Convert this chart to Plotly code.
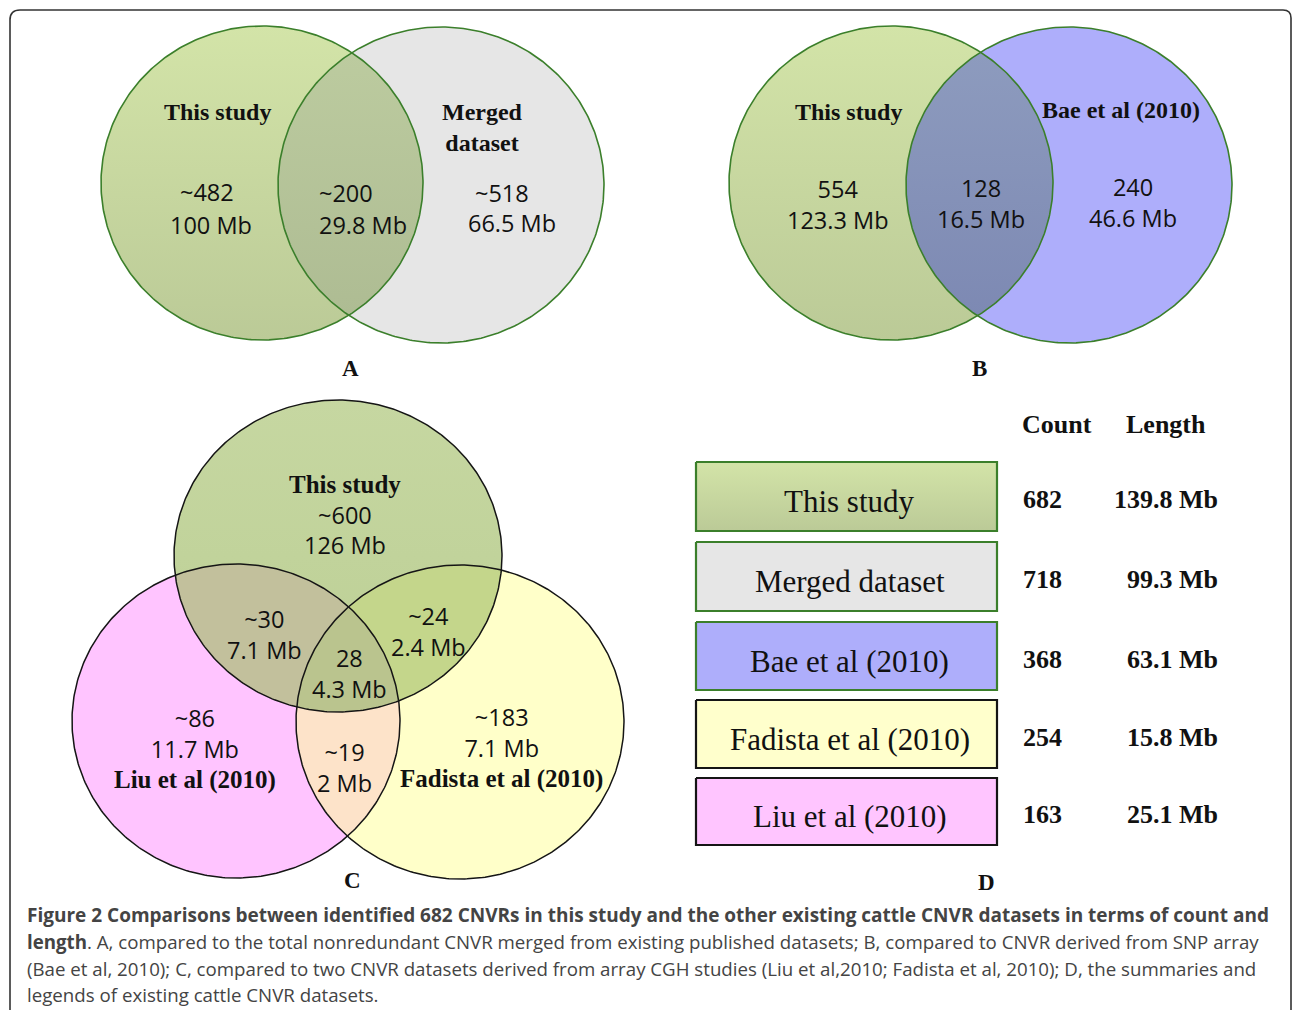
import numpy as np
import plotly.graph_objects as go

# ---------------- data ----------------
a_sets = ["This study", "Merged<br>dataset"]
a_counts = ["~482", "~200", "~518"]
a_lengths = ["100 Mb", "29.8 Mb", "66.5 Mb"]

b_sets = ["This study", "Bae et al (2010)"]
b_counts = ["554", "128", "240"]
b_lengths = ["123.3 Mb", "16.5 Mb", "46.6 Mb"]

c_sets = ["This study", "Liu et al (2010)", "Fadista et al (2010)"]
c_regions = ["This only", "This+Liu", "This+Fadista", "All three", "Liu only", "Liu+Fadista", "Fadista only"]
c_counts = ["~600", "~30", "~24", "28", "~86", "~19", "~183"]
c_lengths = ["126 Mb", "7.1 Mb", "2.4 Mb", "4.3 Mb", "11.7 Mb", "2 Mb", "7.1 Mb"]

datasets = ["This study", "Merged dataset", "Bae et al (2010)", "Fadista et al (2010)", "Liu et al (2010)"]
dataset_counts = [682, 718, 368, 254, 163]
dataset_lengths = [139.8, 99.3, 63.1, 15.8, 25.1]

caption_lines = [
    "<b>Figure 2 Comparisons between identified 682 CNVRs in this study and the other existing cattle CNVR datasets in terms of count and</b>",
    "<b>length</b>. A, compared to the total nonredundant CNVR merged from existing published datasets; B, compared to CNVR derived from SNP array",
    "(Bae et al, 2010); C, compared to two CNVR datasets derived from array CGH studies (Liu et al,2010; Fadista et al, 2010); D, the summaries and",
    "legends of existing cattle CNVR datasets.",
]

# ---------------- styles / geometry ----------------
W, H = 1293, 1010
SERIF = "Liberation Serif, Times New Roman, serif"
SANS = "Open Sans, Liberation Sans, sans-serif"
NUM = 23.5

GREEN_TOP, GREEN_BOT = "#d3e4a8", "#bbca97"
GREY = "#e6e6e6"
BLUE = "#aeaefb"
YELLOW = "#ffffc9"
PINK = "#ffc4ff"
EDGE_GREEN = "#3b7f2b"
EDGE_BLACK = "#151515"

fig = go.Figure()


def ell_pts(e, n=400):
    cx, cy, rx, ry = e
    t = np.linspace(0, 2 * np.pi, n)
    return cx + rx * np.cos(t), cy + ry * np.sin(t)


def inside(x, y, e):
    cx, cy, rx, ry = e
    return ((x - cx) / rx) ** 2 + ((y - cy) / ry) ** 2 <= 1.0000001


def intersection(es, n=1200):
    xs, ys = [], []
    for i, e in enumerate(es):
        x, y = ell_pts(e, n)
        m = np.ones_like(x, dtype=bool)
        for j, o in enumerate(es):
            if j != i:
                m &= inside(x, y, o)
        xs.append(x[m]); ys.append(y[m])
    x = np.concatenate(xs); y = np.concatenate(ys)
    mx, my = x.mean(), y.mean()
    order = np.argsort(np.arctan2(y - my, x - mx))
    x, y = x[order], y[order]
    return np.append(x, x[0]), np.append(y, y[0])


def fill(x, y, color=None, grad=None):
    kw = dict(x=x, y=y, mode="lines", fill="toself", line=dict(width=0, color="rgba(0,0,0,0)"),
              hoverinfo="skip", showlegend=False)
    if grad:
        kw["fillgradient"] = dict(type="vertical", colorscale=[[0, grad[0]], [1, grad[1]]],
                                  start=float(np.min(y)), stop=float(np.max(y)))
    else:
        kw["fillcolor"] = color
    fig.add_trace(go.Scatter(**kw))


def outline(e, color, width=1.6):
    x, y = ell_pts(e)
    fig.add_trace(go.Scatter(x=x, y=y, mode="lines", line=dict(color=color, width=width),
                             hoverinfo="skip", showlegend=False))


def text(x, y, s, size, family=SANS, bold=False, color="#111", anchor="center"):
    fig.add_annotation(x=x, y=y, text=f"<b>{s}</b>" if bold else s, showarrow=False,
                       xanchor=anchor, yanchor="middle", align="center",
                       font=dict(family=family, size=size, color=color))


def serif_b(s, size=25):
    return (f"<span style='font-family:Liberation Serif, Times New Roman, serif;"
            f"font-size:{size}px'><b>{s}</b></span>")


# ---------------- panel A ----------------
A_left = (262, 183, 161, 157)
A_right = (441, 185, 163, 158)
fill(*ell_pts(A_left), grad=(GREEN_TOP, GREEN_BOT))
fill(*ell_pts(A_right), color=GREY)
fill(*intersection([A_left, A_right]), grad=("#bccb9f", "#aebc93"))
outline(A_left, EDGE_GREEN)
outline(A_right, EDGE_GREEN)
text(217, 112, a_sets[0], 24, SERIF, True)
text(482, 127, a_sets[1], 24, SERIF, True)
for x, y, c in zip([207, 346, 502], [192, 193, 193], a_counts):
    text(x, y, c, NUM)
for x, y, l in zip([211, 363, 512], [225, 225, 223], a_lengths):
    text(x, y, l, NUM)
text(350, 368, "A", 23, SERIF, True)

# ---------------- panel B ----------------
B_left = (891, 183, 162, 157)
B_right = (1069, 185, 163, 158)
fill(*ell_pts(B_left), grad=(GREEN_TOP, GREEN_BOT))
fill(*ell_pts(B_right), color=BLUE)
fill(*intersection([B_left, B_right]), grad=("#8d9bbe", "#7d89b3"))
outline(B_left, EDGE_GREEN)
outline(B_right, EDGE_GREEN)
text(848, 112, b_sets[0], 24, SERIF, True)
text(1121, 110, b_sets[1], 24, SERIF, True)
for x, y, c, l in zip([838, 981, 1133], [204, 203, 202], b_counts, b_lengths):
    text(x, y, f"{c}<br>{l}", NUM)
text(979, 368, "B", 23, SERIF, True)

# ---------------- panel C ----------------
C_top = (338, 556, 164, 156)
C_left = (236, 721, 164, 157)
C_right = (460, 722, 164, 157)
fill(*ell_pts(C_left), color=PINK)
fill(*ell_pts(C_right), color=YELLOW)
fill(*ell_pts(C_top), grad=("#c6d7a1", "#bccf95"))
fill(*intersection([C_top, C_left]), color="#c2c09c")
fill(*intersection([C_top, C_right]), color="#c4d68b")
fill(*intersection([C_left, C_right]), color="#fde3c9")
fill(*intersection([C_top, C_left, C_right]), color="#bac48e")
for e in (C_top, C_left, C_right):
    outline(e, EDGE_BLACK, 1.5)

# region labels: (x, y_center)
c_label_pos = [(345, 516), (264, 634), (428, 631), (349, 673), (195, 748), (344, 767), (501, 747)]
for i, ((x, y), c, l) in enumerate(zip(c_label_pos, c_counts, c_lengths)):
    if i == 0:
        s = f"{serif_b(c_sets[0])}<br>{c}<br>{l}"
    elif i == 4:
        s = f"{c}<br>{l}<br>{serif_b(c_sets[1])}"
    elif i == 6:
        s = f"{c}<br>{l}<br>{serif_b(c_sets[2])}"
    else:
        s = f"{c}<br>{l}"
    fig.add_annotation(x=x, y=y, text=s, showarrow=False, xanchor="center", yanchor="middle",
                       align="center", font=dict(family=SANS, size=NUM, color="#111"))
text(352, 880, "C", 23, SERIF, True)

# ---------------- panel D ----------------
box_x0, box_x1 = 696, 997
box_y = [(462, 531), (542, 611), (622, 690), (700, 768), (778, 845)]
box_fill = [None, GREY, BLUE, "#ffffcc", "#ffc5ff"]
box_edge = [EDGE_GREEN, EDGE_GREEN, EDGE_GREEN, EDGE_BLACK, EDGE_BLACK]
text(1057, 424, "Count", 26, SERIF, True)
text(1166, 424, "Length", 26, SERIF, True)
for i, name in enumerate(datasets):
    y0, y1 = box_y[i]
    bx = [box_x0, box_x1, box_x1, box_x0, box_x0]
    by = [y0, y0, y1, y1, y0]
    if box_fill[i] is None:
        fill(bx, by, grad=(GREEN_TOP, GREEN_BOT))
    else:
        fill(bx, by, color=box_fill[i])
    fig.add_trace(go.Scatter(x=bx, y=by, mode="lines", line=dict(color=box_edge[i], width=2.2),
                             hoverinfo="skip", showlegend=False))
    ym = (y0 + y1) / 2
    text((box_x0 + box_x1) / 2 + 3, ym + 5, name, 31, SERIF)
    text(1042, ym + 3, str(dataset_counts[i]), 26, SERIF, True)
    text(1220, ym + 3, f"{dataset_lengths[i]:.1f} Mb", 26, SERIF, True, anchor="right")
text(986, 882, "D", 23, SERIF, True)

# ---------------- caption ----------------
cap_sizes = [19, 18.7, 18.7, 18.7]
for k, line in enumerate(caption_lines):
    fig.add_annotation(x=25, y=915 + k * 26.6, text=line, showarrow=False, xanchor="left",
                       yanchor="middle", align="left",
                       font=dict(family=SANS, size=cap_sizes[k], color="#444444"))

# frame
fig.add_shape(type="path", path="M 10,1030 L 10,20 Q 10,10 20,10 L 1283,10 Q 1291,10 1291,18 L 1291,1030",
              line=dict(color="#333333", width=1.6), layer="above")

fig.update_xaxes(range=[0, W], visible=False, fixedrange=True)
fig.update_yaxes(range=[H, 0], visible=False, fixedrange=True)
fig.update_layout(width=W, height=H, margin=dict(l=0, r=0, t=0, b=0),
                  paper_bgcolor="white", plot_bgcolor="white", showlegend=False)
fig.write_html("out.html", config={"displayModeBar": False},
               post_script="document.body.style.margin='0';document.body.style.overflow='hidden';")
